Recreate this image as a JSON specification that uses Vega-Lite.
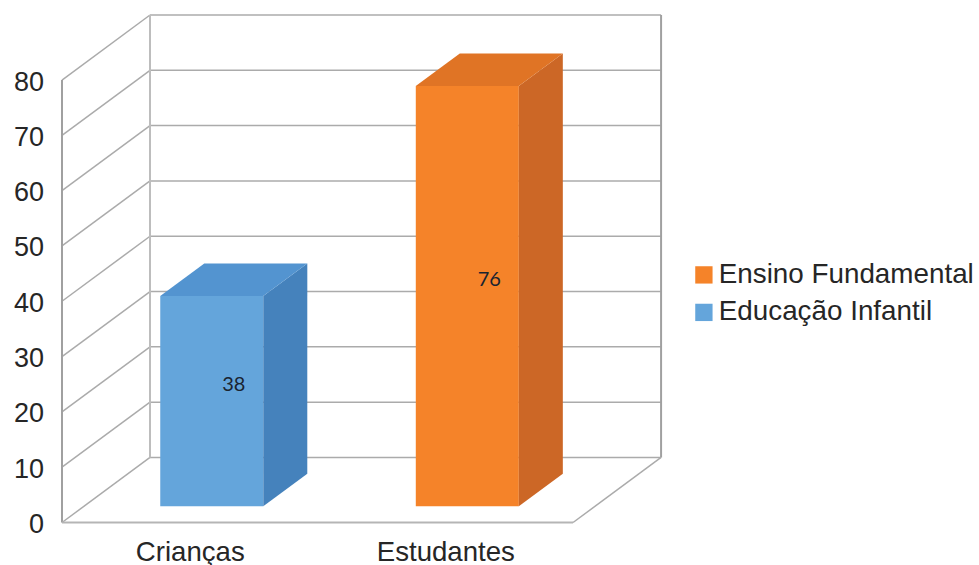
{
  "$schema": "https://vega.github.io/schema/vega-lite/v6.json",
  "width": 600,
  "height": 507.5,
  "autosize": {"type": "none"},
  "padding": {"left": 62, "top": 15, "right": 317, "bottom": 42.5},
  "background": "#ffffff",
  "params": [
    {"name": "dx", "value": 0.3444},
    {"name": "dy", "value": 11.76},
    {"name": "meia", "value": 0.2016}
  ],
  "datasets": {
    "barras": [
      {"categoria": "Crianças", "serie": "Educação Infantil", "valor": 38},
      {"categoria": "Estudantes", "serie": "Ensino Fundamental", "valor": 76}
    ],
    "grade": [
      {"nivel": 0}, {"nivel": 10}, {"nivel": 20}, {"nivel": 30}, {"nivel": 40},
      {"nivel": 50}, {"nivel": 60}, {"nivel": 70}, {"nivel": 80}
    ],
    "vazio": [{"a": 0}]
  },
  "layer": [
    {
      "description": "Back wall grid lines, with the value and category axes",
      "data": {"name": "grade"},
      "transform": [
        {"calculate": "dx", "as": "x0"},
        {"calculate": "2 + dx", "as": "x1"},
        {"calculate": "datum.nivel + dy", "as": "yf"}
      ],
      "mark": {"type": "rule", "color": "#ababab", "strokeWidth": 1.5},
      "encoding": {
        "x": {
          "field": "x0",
          "type": "quantitative",
          "scale": {"domain": [0, 2.348], "nice": false, "zero": false},
          "axis": {
            "title": null,
            "values": [0.5, 1.5],
            "labelExpr": "datum.value < 1 ? 'Crianças' : 'Estudantes'",
            "domain": false,
            "ticks": false,
            "grid": false,
            "labelFont": "Liberation Sans",
            "labelFontSize": 27.6,
            "labelColor": "#262626",
            "labelPadding": 16,
            "labelOverlap": false
          }
        },
        "x2": {"field": "x1"},
        "y": {
          "field": "yf",
          "type": "quantitative",
          "scale": {"domain": [0, 91.76], "nice": false, "zero": false},
          "axis": {
            "title": null,
            "values": [0, 10, 20, 30, 40, 50, 60, 70, 80],
            "domain": false,
            "ticks": false,
            "grid": false,
            "labelFont": "Liberation Sans",
            "labelFontSize": 27,
            "labelColor": "#262626",
            "labelPadding": 18.5,
            "labelOffset": 2,
            "labelOverlap": false
          }
        }
      }
    },
    {
      "description": "Side wall diagonals",
      "data": {"name": "grade"},
      "transform": [
        {"calculate": "0", "as": "x0"},
        {"calculate": "dx", "as": "x1"},
        {"calculate": "datum.nivel + dy", "as": "yf"}
      ],
      "mark": {"type": "rule", "color": "#ababab", "strokeWidth": 1.5},
      "encoding": {
        "x": {"field": "x0", "type": "quantitative"},
        "x2": {"field": "x1"},
        "y": {"field": "nivel", "type": "quantitative"},
        "y2": {"field": "yf"}
      }
    },
    {
      "description": "Frame: front upright of the side wall",
      "data": {"name": "vazio"},
      "transform": [{"calculate": "0", "as": "xc"}, {"calculate": "0", "as": "yb"}, {"calculate": "80", "as": "yt"}],
      "mark": {"type": "rule", "color": "#a0a0a0", "strokeWidth": 2},
      "encoding": {
        "x": {"field": "xc", "type": "quantitative"},
        "y": {"field": "yb", "type": "quantitative"},
        "y2": {"field": "yt"}
      }
    },
    {
      "description": "Frame: corner between back and side walls",
      "data": {"name": "vazio"},
      "transform": [{"calculate": "dx", "as": "xc"}, {"calculate": "dy", "as": "yb"}, {"calculate": "80 + dy", "as": "yt"}],
      "mark": {"type": "rule", "color": "#bdbdbd", "strokeWidth": 2},
      "encoding": {
        "x": {"field": "xc", "type": "quantitative"},
        "y": {"field": "yb", "type": "quantitative"},
        "y2": {"field": "yt"}
      }
    },
    {
      "description": "Frame: right edge of the back wall",
      "data": {"name": "vazio"},
      "transform": [{"calculate": "2 + dx", "as": "xc"}, {"calculate": "dy", "as": "yb"}, {"calculate": "80 + dy", "as": "yt"}],
      "mark": {"type": "rule", "color": "#a0a0a0", "strokeWidth": 2},
      "encoding": {
        "x": {"field": "xc", "type": "quantitative"},
        "y": {"field": "yb", "type": "quantitative"},
        "y2": {"field": "yt"}
      }
    },
    {
      "description": "Floor: front edge",
      "data": {"name": "vazio"},
      "transform": [{"calculate": "0", "as": "xa"}, {"calculate": "2", "as": "xb"}, {"calculate": "0", "as": "yb"}],
      "mark": {"type": "rule", "color": "#b5b5b5", "strokeWidth": 2},
      "encoding": {
        "x": {"field": "xa", "type": "quantitative"},
        "x2": {"field": "xb"},
        "y": {"field": "yb", "type": "quantitative"}
      }
    },
    {
      "description": "Floor: right diagonal",
      "data": {"name": "vazio"},
      "transform": [{"calculate": "2", "as": "xa"}, {"calculate": "2 + dx", "as": "xf"}, {"calculate": "0", "as": "ya"}, {"calculate": "dy", "as": "yf"}],
      "mark": {"type": "rule", "color": "#ababab", "strokeWidth": 1.5},
      "encoding": {
        "x": {"field": "xa", "type": "quantitative"},
        "x2": {"field": "xf"},
        "y": {"field": "ya", "type": "quantitative"},
        "y2": {"field": "yf"}
      }
    },
    {
      "description": "Bar front faces, drawn from each value; these carry the legend",
      "data": {"name": "barras"},
      "transform": [
        {"calculate": "indexof(['Crianças', 'Estudantes'], datum.categoria) + 0.5 + dx / 4", "as": "centro"},
        {"calculate": "datum.centro - meia", "as": "xe"},
        {"calculate": "datum.centro + meia", "as": "xd"},
        {"calculate": "dy / 4", "as": "base"},
        {"calculate": "datum.valor + dy / 4", "as": "topo"}
      ],
      "mark": {"type": "rect"},
      "encoding": {
        "x": {"field": "xe", "type": "quantitative"},
        "x2": {"field": "xd"},
        "y": {"field": "base", "type": "quantitative"},
        "y2": {"field": "topo"},
        "color": {
          "field": "serie",
          "type": "nominal",
          "scale": {"domain": ["Ensino Fundamental", "Educação Infantil"], "range": ["#F58329", "#64A5DB"]},
          "legend": {
            "title": null,
            "orient": "none",
            "legendX": 628,
            "legendY": 246,
            "symbolType": "square",
            "symbolSize": 300,
            "symbolStrokeWidth": 0,
            "labelFont": "Liberation Sans",
            "labelFontSize": 27.8,
            "labelColor": "#262626",
            "labelOffset": 1,
            "rowPadding": 8.5,
            "labelLimit": 320
          }
        }
      }
    },
    {
      "description": "Bar right side faces",
      "data": {"name": "barras"},
      "transform": [
        {"calculate": "indexof(['Crianças', 'Estudantes'], datum.categoria) + 0.5 + dx / 4 + meia", "as": "xd"},
        {"calculate": "[0, 1]", "as": "t"},
        {"flatten": ["t"]},
        {"calculate": "datum.xd + datum.t * dx / 2", "as": "xp"},
        {"calculate": "dy / 4 + datum.t * dy / 2", "as": "yb"},
        {"calculate": "datum.valor + dy / 4 + datum.t * dy / 2", "as": "yt"}
      ],
      "mark": {"type": "area", "orient": "vertical"},
      "encoding": {
        "x": {"field": "xp", "type": "quantitative"},
        "y": {"field": "yb", "type": "quantitative", "stack": null},
        "y2": {"field": "yt"},
        "color": {
          "field": "serie",
          "type": "nominal",
          "scale": {"domain": ["Ensino Fundamental", "Educação Infantil"], "range": ["#CC6726", "#4582BC"]},
          "legend": null
        }
      }
    },
    {
      "description": "Bar top faces",
      "data": {"name": "barras"},
      "transform": [
        {"calculate": "indexof(['Crianças', 'Estudantes'], datum.categoria) + 0.5 + dx / 4", "as": "centro"},
        {"calculate": "[0, 1]", "as": "t"},
        {"flatten": ["t"]},
        {"calculate": "datum.centro - meia + datum.t * dx / 2", "as": "xe"},
        {"calculate": "datum.centro + meia + datum.t * dx / 2", "as": "xd"},
        {"calculate": "datum.valor + dy / 4 + datum.t * dy / 2", "as": "yp"}
      ],
      "mark": {"type": "area", "orient": "horizontal"},
      "encoding": {
        "y": {"field": "yp", "type": "quantitative"},
        "x": {"field": "xe", "type": "quantitative", "stack": null},
        "x2": {"field": "xd"},
        "color": {
          "field": "serie",
          "type": "nominal",
          "scale": {"domain": ["Ensino Fundamental", "Educação Infantil"], "range": ["#E07425", "#5394D0"]},
          "legend": null
        }
      }
    },
    {
      "description": "Value labels at the middle of each bar's depth",
      "data": {"name": "barras"},
      "transform": [
        {"calculate": "indexof(['Crianças', 'Estudantes'], datum.categoria) + 0.5 + dx / 2", "as": "xt"},
        {"calculate": "datum.valor / 2 + dy / 2", "as": "yt"}
      ],
      "mark": {"type": "text", "font": "Lato", "fontSize": 20, "color": "#1a2430", "align": "center", "baseline": "middle"},
      "encoding": {
        "x": {"field": "xt", "type": "quantitative"},
        "y": {"field": "yt", "type": "quantitative"},
        "text": {"field": "valor", "type": "quantitative"}
      }
    }
  ],
  "resolve": {"scale": {"color": "independent"}},
  "config": {"view": {"stroke": null}}
}
